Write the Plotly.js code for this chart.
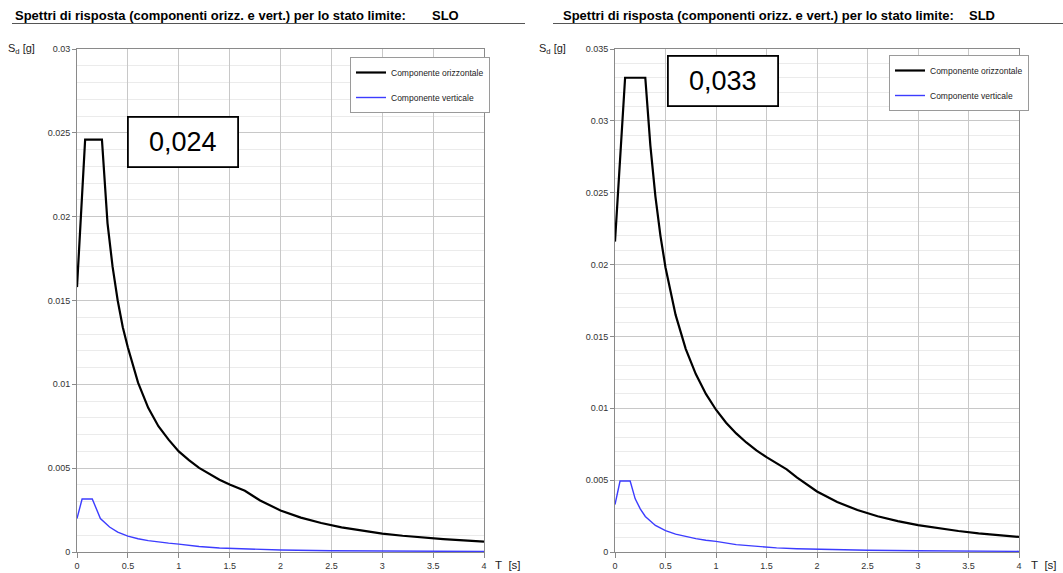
<!DOCTYPE html>
<html>
<head>
<meta charset="utf-8">
<script src="https://cdn.plot.ly/plotly-3.0.1.min.js"></script>
<style>html,body{margin:0;padding:0;background:#fff;}#chart{width:1063px;height:573px;}</style>
</head>
<body>
<div id="chart"></div>
<script>
// ---- Data ----
// SLO – horizontal component
const sloHorT = [0, 0.08, 0.245, 0.3, 0.35, 0.4, 0.45, 0.5, 0.6, 0.7, 0.8, 0.9, 1.0, 1.1, 1.2, 1.3, 1.4, 1.5, 1.65, 1.8, 2.0, 2.2, 2.4, 2.6, 2.8, 3.0, 3.2, 3.4, 3.6, 3.8, 4.0];
const sloHorSd = [0.0158, 0.0246, 0.0246, 0.0196, 0.0170, 0.0150, 0.0134, 0.0122, 0.0101, 0.0086, 0.0075, 0.0067, 0.0060, 0.00548, 0.00502, 0.00464, 0.00431, 0.00402, 0.00365, 0.00307, 0.00248, 0.00205, 0.00173, 0.00147, 0.00127, 0.00110, 0.00097, 0.00086, 0.00077, 0.00069, 0.00062];
// SLO – vertical component
const sloVerT = [0, 0.05, 0.15, 0.23, 0.32, 0.4, 0.5, 0.6, 0.7, 0.8, 0.9, 1.0, 1.2, 1.4, 1.6, 1.8, 2.0, 2.5, 3.0, 3.5, 4.0];
const sloVerSd = [0.0020, 0.00316, 0.00316, 0.00200, 0.00149, 0.00119, 0.00095, 0.00079, 0.00068, 0.00059, 0.00053, 0.00047, 0.00033, 0.00024, 0.000185, 0.000146, 0.000118, 0.000076, 0.000053, 0.000039, 0.00003];
// SLD – horizontal component
const sldHorT = [0, 0.1, 0.3, 0.35, 0.4, 0.45, 0.5, 0.6, 0.7, 0.8, 0.9, 1.0, 1.1, 1.2, 1.3, 1.4, 1.5, 1.6, 1.7, 1.8, 2.0, 2.2, 2.4, 2.6, 2.8, 3.0, 3.2, 3.4, 3.6, 3.8, 4.0];
const sldHorSd = [0.0216, 0.0330, 0.0330, 0.0283, 0.02475, 0.0220, 0.0198, 0.0165, 0.01414, 0.01238, 0.0110, 0.0099, 0.0090, 0.00825, 0.00762, 0.00707, 0.0066, 0.00619, 0.00575, 0.00519, 0.00421, 0.00348, 0.00292, 0.00249, 0.00215, 0.00187, 0.00164, 0.00146, 0.00130, 0.00116, 0.00105];
// SLD – vertical component
const sldVerT = [0, 0.05, 0.15, 0.2, 0.25, 0.3, 0.4, 0.5, 0.6, 0.7, 0.8, 0.9, 1.0, 1.2, 1.4, 1.6, 1.8, 2.0, 2.5, 3.0, 3.5, 4.0];
const sldVerSd = [0.0033, 0.00494, 0.00494, 0.0037, 0.00300, 0.00247, 0.00185, 0.00148, 0.00124, 0.00106, 0.00093, 0.00082, 0.00074, 0.00051, 0.00038, 0.00029, 0.00023, 0.000185, 0.000118, 0.000082, 0.00006, 0.000046];

const seriesNames = ['Componente orizzontale', 'Componente verticale'];
const chartTitles = ['Spettri di risposta (componenti orizz. e vert.) per lo stato limite:', 'Spettri di risposta (componenti orizz. e vert.) per lo stato limite:'];
const limitStates = ['SLO', 'SLD'];
const peakLabels = ['0,024', '0,033'];
const xTickVals = [0, 0.5, 1, 1.5, 2, 2.5, 3, 3.5, 4];
const xTickText = ['0', '0.5', '1', '1.5', '2', '2.5', '3', '3.5', '4'];
const yMax = [0.03, 0.035];

const FONT = 'Liberation Sans, Arial, sans-serif';
const horColor = '#000000';
const verColor = 'rgb(60,60,255)';

const traces = [
  {x: sloHorT, y: sloHorSd, xaxis: 'x', yaxis: 'y', mode: 'lines', name: seriesNames[0], line: {color: horColor, width: 2.2}, legend: 'legend', legendgroup: 'a'},
  {x: sloVerT, y: sloVerSd, xaxis: 'x', yaxis: 'y', mode: 'lines', name: seriesNames[1], line: {color: verColor, width: 1.4}, legend: 'legend', legendgroup: 'b'},
  {x: sldHorT, y: sldHorSd, xaxis: 'x2', yaxis: 'y2', mode: 'lines', name: seriesNames[0], line: {color: horColor, width: 2.2}, legend: 'legend2', legendgroup: 'c'},
  {x: sldVerT, y: sldVerSd, xaxis: 'x2', yaxis: 'y2', mode: 'lines', name: seriesNames[1], line: {color: verColor, width: 1.4}, legend: 'legend2', legendgroup: 'd'}
];

const W = 1063, H = 573;
const px = v => v / W;
const py = v => 1 - v / H;

function xAxis(domain, anchor) {
  return {
    domain: domain, anchor: anchor, range: [0, 4], tickvals: xTickVals, ticktext: xTickText,
    showgrid: true, gridcolor: '#c8c8c8', gridwidth: 1, zeroline: false,
    showline: true, linecolor: '#8a8a8a', linewidth: 1, mirror: true,
    ticks: 'outside', ticklen: 5, tickcolor: '#8a8a8a',
    tickfont: {family: FONT, size: 9, color: '#333'}, fixedrange: true
  };
}
function yAxis(domain, anchor, max) {
  return {
    domain: domain, anchor: anchor, range: [0, max], dtick: 0.005, tick0: 0,
    showgrid: true, gridcolor: '#c8c8c8', gridwidth: 1, zeroline: false,
    showline: true, linecolor: '#8a8a8a', linewidth: 1, mirror: true,
    ticks: 'outside', ticklen: 4, tickcolor: '#8a8a8a',
    tickfont: {family: FONT, size: 9, color: '#333'},
    minor: {dtick: 0.001, showgrid: true, gridcolor: '#ebebeb', gridwidth: 1, ticks: ''},
    fixedrange: true
  };
}

const yDom = [21 / H, 524 / H];

const legendStyle = (x, y) => ({
  x: x, y: y, xanchor: 'left', yanchor: 'top', xref: 'paper', yref: 'paper',
  bgcolor: '#ffffff', bordercolor: '#9a9a9a', borderwidth: 1,
  font: {family: FONT, size: 8.5, color: '#222'},
  tracegroupgap: 6, traceorder: 'grouped', itemwidth: 30
});

const ann = [];
const shapes = [];
// titles
[[13, 430, 12, 525], [561, 967, 553, 1063]].forEach((p, i) => {
  ann.push({xref: 'paper', yref: 'paper', x: px(p[0]), y: py(16), xanchor: 'left', yanchor: 'middle', showarrow: false,
    text: '<b>' + chartTitles[i] + '</b>', font: {family: FONT, size: 13, color: '#000'}});
  ann.push({xref: 'paper', yref: 'paper', x: px(p[1]), y: py(16), xanchor: 'left', yanchor: 'middle', showarrow: false,
    text: '<b>' + limitStates[i] + '</b>', font: {family: FONT, size: 13, color: '#000'}});
  shapes.push({type: 'line', xref: 'paper', yref: 'paper', x0: px(p[2]), x1: px(p[3]), y0: py(23.5), y1: py(23.5), line: {color: '#555', width: 1}});
});
// axis labels
[[6, 493], [537, 1029]].forEach(p => {
  ann.push({xref: 'paper', yref: 'paper', x: px(p[0]), y: py(49), xanchor: 'left', yanchor: 'middle', showarrow: false,
    text: 'S<sub>d</sub> [g]', font: {family: FONT, size: 11, color: '#222'}});
  ann.push({xref: 'paper', yref: 'paper', x: px(p[1]), y: py(565), xanchor: 'left', yanchor: 'middle', showarrow: false,
    text: 'T&nbsp;&nbsp;[s]', font: {family: FONT, size: 11.5, color: '#222'}});
});
// peak value boxes
[[182.5, 142.5], [723, 81.5]].forEach((p, i) => {
  ann.push({xref: 'paper', yref: 'paper', x: px(p[0]), y: py(p[1]), xanchor: 'center', yanchor: 'middle', showarrow: false,
    text: peakLabels[i], font: {family: FONT, size: 27, color: '#000'},
    bgcolor: '#ffffff', bordercolor: '#000', borderwidth: 1.8, width: 106, height: 46, borderpad: 1});
});

const layout = {
  width: W, height: H, margin: {l: 0, r: 0, t: 0, b: 0},
  paper_bgcolor: '#fff', plot_bgcolor: '#fff', showlegend: true,
  font: {family: FONT},
  xaxis: xAxis([77 / W, 484 / W], 'y'),
  yaxis: yAxis(yDom, 'x', yMax[0]),
  xaxis2: xAxis([615 / W, 1019 / W], 'y2'),
  yaxis2: yAxis(yDom, 'x2', yMax[1]),
  legend: legendStyle(px(350), py(57)),
  legend2: legendStyle(px(889), py(55)),
  annotations: ann, shapes: shapes
};

Plotly.newPlot('chart', traces, layout, {displayModeBar: false, staticPlot: true});
</script>
</body>
</html>
